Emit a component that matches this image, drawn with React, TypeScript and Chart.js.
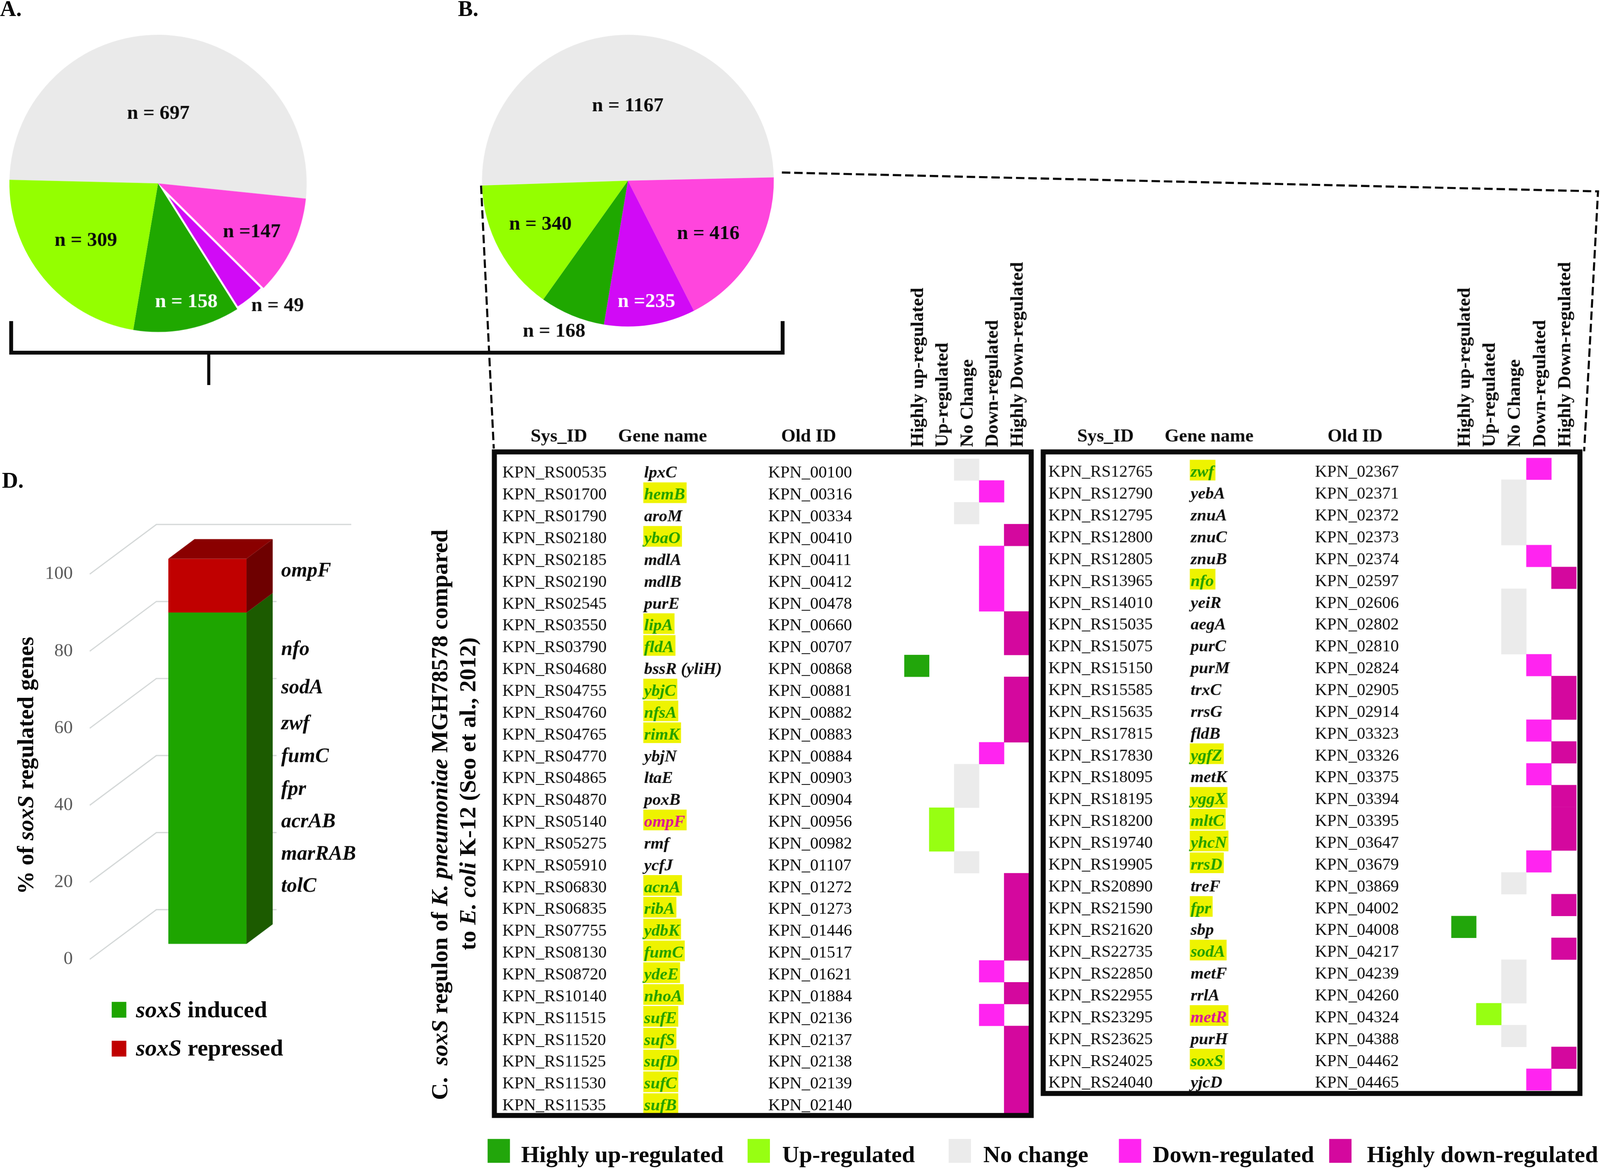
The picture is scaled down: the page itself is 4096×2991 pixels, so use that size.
import React, { useEffect, useRef } from 'react';
import { Chart, registerables } from 'chart.js';

Chart.register(...registerables);

const K = 0.986;
const SERIF = '"Liberation Serif", "Times New Roman", Times, serif';
const INK = '#0a0a0a';

// ---------------- Panels A & B (pies) ----------------
const pieCategories = ['No change', 'Down-regulated', 'Highly down-regulated', 'Highly up-regulated', 'Up-regulated'];
const pieAValues = [697, 147, 49, 158, 309];
const pieBValues = [1167, 416, 235, 168, 340];
const PIE_COLORS = ['#EAEAEA', '#FF45DD', '#D10AF6', '#1FA800', '#94FF00'];

// ---------------- Panel D (3D stacked bar) ----------------
const dCategories = ['soxS regulated genes'];
const dInduced = [86];
const dRepressed = [14];
const dTicks = [0, 20, 40, 60, 80, 100];
const dGeneNames = ['ompF', 'nfo', 'sodA', 'zwf', 'fumC', 'fpr', 'acrAB', 'marRAB', 'tolC'];
const dGeneBaselinePct = [95.4, 75.0, 65.1, 55.7, 47.2, 38.7, 30.3, 21.9, 13.5];

// ---------------- Panel C (regulon tables) ----------------
const statusNames = ['Highly up-regulated', 'Up-regulated', 'No Change', 'Down-regulated', 'Highly Down-regulated'];
const legendNames = ['Highly up-regulated', 'Up-regulated', 'No change', 'Down-regulated', 'Highly down-regulated'];
const STATUS_COLORS = ['#22A60B', '#97FF12', '#EBEBEB', '#FF24F0', '#D4089E'];
const tableHeaders = ['Sys_ID', 'Gene name', 'Old ID'];

const leftSysIds = ['KPN_RS00535', 'KPN_RS01700', 'KPN_RS01790', 'KPN_RS02180', 'KPN_RS02185', 'KPN_RS02190', 'KPN_RS02545', 'KPN_RS03550', 'KPN_RS03790', 'KPN_RS04680', 'KPN_RS04755', 'KPN_RS04760', 'KPN_RS04765', 'KPN_RS04770', 'KPN_RS04865', 'KPN_RS04870', 'KPN_RS05140', 'KPN_RS05275', 'KPN_RS05910', 'KPN_RS06830', 'KPN_RS06835', 'KPN_RS07755', 'KPN_RS08130', 'KPN_RS08720', 'KPN_RS10140', 'KPN_RS11515', 'KPN_RS11520', 'KPN_RS11525', 'KPN_RS11530', 'KPN_RS11535'];
const leftGenes = ['lpxC', 'hemB', 'aroM', 'ybaO', 'mdlA', 'mdlB', 'purE', 'lipA', 'fldA', 'bssR (yliH)', 'ybjC', 'nfsA', 'rimK', 'ybjN', 'ltaE', 'poxB', 'ompF', 'rmf', 'ycfJ', 'acnA', 'ribA', 'ydbK', 'fumC', 'ydeE', 'nhoA', 'sufE', 'sufS', 'sufD', 'sufC', 'sufB'];
const leftOldIds = ['KPN_00100', 'KPN_00316', 'KPN_00334', 'KPN_00410', 'KPN_00411', 'KPN_00412', 'KPN_00478', 'KPN_00660', 'KPN_00707', 'KPN_00868', 'KPN_00881', 'KPN_00882', 'KPN_00883', 'KPN_00884', 'KPN_00903', 'KPN_00904', 'KPN_00956', 'KPN_00982', 'KPN_01107', 'KPN_01272', 'KPN_01273', 'KPN_01446', 'KPN_01517', 'KPN_01621', 'KPN_01884', 'KPN_02136', 'KPN_02137', 'KPN_02138', 'KPN_02139', 'KPN_02140'];
// 0 highly up, 1 up, 2 no change, 3 down, 4 highly down
const leftStatus = [2, 3, 2, 4, 3, 3, 3, 4, 4, 0, 4, 4, 4, 3, 2, 2, 1, 1, 2, 4, 4, 4, 4, 3, 4, 3, 4, 4, 4, 4];
// 0 plain, 1 known soxS-induced (green on yellow), 2 known soxS-repressed (magenta on yellow)
const leftKnown = [0, 1, 0, 1, 0, 0, 0, 1, 1, 0, 1, 1, 1, 0, 0, 0, 2, 0, 0, 1, 1, 1, 1, 1, 1, 1, 1, 1, 1, 1];

const rightSysIds = ['KPN_RS12765', 'KPN_RS12790', 'KPN_RS12795', 'KPN_RS12800', 'KPN_RS12805', 'KPN_RS13965', 'KPN_RS14010', 'KPN_RS15035', 'KPN_RS15075', 'KPN_RS15150', 'KPN_RS15585', 'KPN_RS15635', 'KPN_RS17815', 'KPN_RS17830', 'KPN_RS18095', 'KPN_RS18195', 'KPN_RS18200', 'KPN_RS19740', 'KPN_RS19905', 'KPN_RS20890', 'KPN_RS21590', 'KPN_RS21620', 'KPN_RS22735', 'KPN_RS22850', 'KPN_RS22955', 'KPN_RS23295', 'KPN_RS23625', 'KPN_RS24025', 'KPN_RS24040'];
const rightGenes = ['zwf', 'yebA', 'znuA', 'znuC', 'znuB', 'nfo', 'yeiR', 'aegA', 'purC', 'purM', 'trxC', 'rrsG', 'fldB', 'ygfZ', 'metK', 'yggX', 'mltC', 'yhcN', 'rrsD', 'treF', 'fpr', 'sbp', 'sodA', 'metF', 'rrlA', 'metR', 'purH', 'soxS', 'yjcD'];
const rightOldIds = ['KPN_02367', 'KPN_02371', 'KPN_02372', 'KPN_02373', 'KPN_02374', 'KPN_02597', 'KPN_02606', 'KPN_02802', 'KPN_02810', 'KPN_02824', 'KPN_02905', 'KPN_02914', 'KPN_03323', 'KPN_03326', 'KPN_03375', 'KPN_03394', 'KPN_03395', 'KPN_03647', 'KPN_03679', 'KPN_03869', 'KPN_04002', 'KPN_04008', 'KPN_04217', 'KPN_04239', 'KPN_04260', 'KPN_04324', 'KPN_04388', 'KPN_04462', 'KPN_04465'];
const rightStatus = [3, 2, 2, 2, 3, 4, 2, 2, 2, 3, 4, 4, 3, 4, 3, 4, 4, 4, 3, 2, 4, 0, 4, 2, 2, 1, 2, 4, 3];
const rightKnown = [1, 0, 0, 0, 0, 1, 0, 0, 0, 0, 0, 0, 0, 1, 0, 1, 1, 1, 1, 0, 1, 0, 1, 0, 0, 2, 0, 1, 0];

// ---------------- styles / layout (reference pixel space) ----------------
const HL_YELLOW = '#EEF300';
const GENE_GREEN = '#23A000';
const GENE_MAGENTA = '#DC1399';
const ROW_H = 56.65;

const leftLayout = {
  cx: 1260, cy: 600, cw: 1440, ch: 2320,
  fL: 1277, fT: 1167, fR: 2683, fB: 2903,
  sysX: 1304, geneX: 1672, oldX: 1994, hdr: [1451, 1720, 2099],
  cellL: 2347, cellR: 2671, rowTop: 1191,
};
const rightLayout = {
  cx: 2690, cy: 600, cw: 1463, ch: 2260,
  fL: 2702, fT: 1167, fR: 4108, fB: 2846,
  sysX: 2722, geneX: 3091, oldX: 3414, hdr: [2870, 3139, 3518],
  cellL: 3767.5, cellR: 4092.5, rowTop: 1189,
};

function ChartCanvas({ x, y, w, h, make }: any) {
  const ref = useRef<HTMLCanvasElement>(null);
  useEffect(() => {
    const chart = new Chart(ref.current as HTMLCanvasElement, make());
    return () => chart.destroy();
  }, []);
  return <canvas ref={ref} width={w} height={h} style={{ position: 'absolute', left: x, top: y }} />;
}

// ---------------- pie ----------------
function pieLabelPlugin(st: any) {
  return {
    id: 'pieLabels',
    afterDatasetsDraw(chart: any) {
      const ctx = chart.ctx;
      const meta = chart.getDatasetMeta(0);
      const vals = chart.data.datasets[0].data;
      ctx.save();
      ctx.font = `bold 52px ${SERIF}`;
      ctx.textAlign = 'center';
      ctx.textBaseline = 'middle';
      meta.data.forEach((arc: any, i: number) => {
        const p = arc.getProps(['x', 'y', 'startAngle', 'endAngle', 'outerRadius'], true);
        const a = (p.startAngle + p.endAngle) / 2 + (st.dAng[i] * Math.PI) / 180;
        const r = st.frac[i] * p.outerRadius;
        ctx.fillStyle = st.color[i];
        ctx.fillText(st.prefix[i] + vals[i], p.x + r * Math.cos(a), p.y + r * Math.sin(a));
      });
      ctx.restore();
    },
  };
}

function makePie(values: number[], st: any) {
  return {
    type: 'pie',
    data: {
      labels: pieCategories,
      datasets: [{
        data: values,
        backgroundColor: PIE_COLORS,
        borderColor: '#FFFFFF',
        borderWidth: st.borderWidths,
        borderAlign: 'inner',
        radius: st.radius,
      }],
    },
    options: {
      animation: false,
      responsive: false,
      devicePixelRatio: K,
      events: [],
      rotation: st.rotation,
      layout: { padding: 0 },
      plugins: { legend: { display: false }, tooltip: { enabled: false } },
    },
    plugins: [pieLabelPlugin(st)],
  };
}

const pieAStyle = {
  radius: 386, rotation: 271.4, borderWidths: [0, 0, 5, 0, 0],
  prefix: ['n = ', 'n =', 'n = ', 'n = ', 'n = '],
  color: [INK, INK, INK, '#FFFFFF', INK],
  dAng: [-3.4, 2.1, -5.6, -2.1, 1.0],
  frac: [0.47, 0.71, 1.15, 0.82, 0.62],
};
const pieBStyle = {
  radius: 379, rotation: 268.1, borderWidths: [0, 0, 0, 0, 0],
  prefix: ['n = ', 'n = ', 'n =', 'n = ', 'n = '],
  color: [INK, INK, '#FFFFFF', INK, INK],
  dAng: [1.5, 2.6, 0, 3.6, 1.6],
  frac: [0.51, 0.66, 0.84, 1.15, 0.67],
};

// ---------------- 3D bar ----------------
const D_SIDE = ['#1C5B00', '#6E0000'];
const D_TOP = ['#145000', '#8A0000'];
const D_FRONT = ['#1EA500', '#C00000'];

const bar3dPlugin = {
  id: 'bar3d',
  beforeDatasetsDraw(chart: any) {
    const ctx = chart.ctx;
    const ys = chart.scales.y;
    const L = chart.chartArea.left;
    ctx.save();
    dTicks.forEach((v) => {
      const py = ys.getPixelForValue(v);
      ctx.strokeStyle = '#D2D6D6';
      ctx.lineWidth = 3;
      ctx.beginPath();
      ctx.moveTo(L - 204, py + 40);
      ctx.lineTo(L - 31, py - 89);
      ctx.lineTo(v === 100 ? L + 475 : L + 281, py - 89);
      ctx.stroke();
      ctx.fillStyle = '#595959';
      ctx.font = `48px ${SERIF}`;
      ctx.textAlign = 'right';
      ctx.textBaseline = 'middle';
      ctx.fillText(String(v), L - 248, py + 40);
    });
    ctx.restore();
  },
  afterDatasetsDraw(chart: any) {
    const ctx = chart.ctx;
    const DX = 68, DY = 51;
    const n = chart.data.datasets.length;
    ctx.save();
    let right = 0;
    for (let di = 0; di < n; di++) {
      const meta = chart.getDatasetMeta(di);
      meta.data.forEach((bar: any) => {
        const p = bar.getProps(['x', 'y', 'base', 'width'], true);
        const l = p.x - p.width / 2;
        const r = p.x + p.width / 2;
        right = r;
        const top = Math.min(p.y, p.base);
        const bot = Math.max(p.y, p.base);
        ctx.fillStyle = D_SIDE[di];
        ctx.beginPath();
        ctx.moveTo(r, bot);
        ctx.lineTo(r + DX, bot - DY);
        ctx.lineTo(r + DX, top - DY);
        ctx.lineTo(r, top);
        ctx.closePath();
        ctx.fill();
        if (di === n - 1) {
          ctx.fillStyle = D_TOP[di];
          ctx.beginPath();
          ctx.moveTo(l, top);
          ctx.lineTo(l + DX, top - DY);
          ctx.lineTo(r + DX, top - DY);
          ctx.lineTo(r, top);
          ctx.closePath();
          ctx.fill();
        }
      });
    }
    const ys = chart.scales.y;
    ctx.fillStyle = INK;
    ctx.font = `italic bold 53px ${SERIF}`;
    ctx.textAlign = 'left';
    ctx.textBaseline = 'alphabetic';
    dGeneNames.forEach((g, i) => {
      ctx.fillText(g, right + DX + 22, ys.getPixelForValue(dGeneBaselinePct[i]));
    });
    ctx.restore();
  },
};

function makeBar() {
  return {
    type: 'bar',
    data: {
      labels: dCategories,
      datasets: [
        { label: 'soxS induced', data: dInduced, backgroundColor: D_FRONT[0], barPercentage: 1, categoryPercentage: 1 },
        { label: 'soxS repressed', data: dRepressed, backgroundColor: D_FRONT[1], barPercentage: 1, categoryPercentage: 1 },
      ],
    },
    options: {
      animation: false,
      responsive: false,
      devicePixelRatio: K,
      events: [],
      layout: { padding: { left: 437, right: 360, top: 251, bottom: 349 } },
      scales: {
        x: { stacked: true, display: false },
        y: { stacked: true, display: false, min: 0, max: 100 },
      },
      plugins: { legend: { display: false }, tooltip: { enabled: false } },
    },
    plugins: [bar3dPlugin],
  };
}

// ---------------- tables ----------------
function tablePlugin(rows: any, lay: any) {
  return {
    id: 'tableText',
    beforeDatasetsDraw(chart: any) {
      const ctx = chart.ctx;
      const ys = chart.scales.y;
      const n = rows.sys.length;
      const band = (ys.bottom - ys.top) / n;
      const ox = lay.cx;
      ctx.save();
      ctx.textAlign = 'left';
      ctx.textBaseline = 'alphabetic';
      for (let i = 0; i < n; i++) {
        const yc = ys.getPixelForValue(i);
        const base = yc + 21;
        ctx.font = `43.5px ${SERIF}`;
        ctx.fillStyle = INK;
        ctx.fillText(rows.sys[i], lay.sysX - ox, base);
        ctx.fillText(rows.old[i], lay.oldX - ox, base);
        ctx.font = `italic bold 43.5px ${SERIF}`;
        const g = rows.gene[i];
        const k = rows.known[i];
        if (k) {
          const w = ctx.measureText(g).width;
          ctx.fillStyle = HL_YELLOW;
          ctx.fillRect(lay.geneX - ox - 2, yc - band / 2 + 5, w + 6, band - 3);
        }
        ctx.fillStyle = k === 1 ? GENE_GREEN : k === 2 ? GENE_MAGENTA : INK;
        ctx.fillText(g, lay.geneX - ox, base);
      }
      ctx.restore();
    },
    afterDatasetsDraw(chart: any) {
      const ctx = chart.ctx;
      const xs = chart.scales.x;
      const ox = lay.cx, oy = lay.cy;
      ctx.save();
      ctx.fillStyle = INK;
      ctx.font = `bold 48px ${SERIF}`;
      ctx.textAlign = 'center';
      ctx.textBaseline = 'alphabetic';
      tableHeaders.forEach((h, j) => ctx.fillText(h, lay.hdr[j] - ox, 1147 - oy));
      ctx.textAlign = 'left';
      statusNames.forEach((s, j) => {
        ctx.save();
        ctx.translate(xs.getPixelForValue(j) + 16, 1161 - oy);
        ctx.rotate(-Math.PI / 2);
        ctx.fillText(s, 0, 0);
        ctx.restore();
      });
      ctx.strokeStyle = INK;
      ctx.lineWidth = 13;
      ctx.strokeRect(lay.fL - ox + 6.5, lay.fT - oy + 6.5, lay.fR - lay.fL - 13, lay.fB - lay.fT - 13);
      ctx.restore();
    },
  };
}

function makeTable(rows: any, lay: any) {
  const n = rows.sys.length;
  const rowBottom = lay.rowTop + n * ROW_H;
  return {
    type: 'bar',
    data: {
      labels: rows.sys,
      datasets: [{
        label: 'regulation',
        data: rows.status.map((s: number) => [s - 0.5, s + 0.5]),
        backgroundColor: rows.status.map((s: number) => STATUS_COLORS[s]),
        borderWidth: 0,
        barPercentage: 1,
        categoryPercentage: 1,
      }],
    },
    options: {
      indexAxis: 'y',
      animation: false,
      responsive: false,
      devicePixelRatio: K,
      events: [],
      layout: {
        padding: {
          left: lay.cellL - lay.cx,
          right: lay.cx + lay.cw - lay.cellR,
          top: lay.rowTop - lay.cy,
          bottom: lay.cy + lay.ch - rowBottom,
        },
      },
      scales: {
        x: { type: 'linear', min: -0.5, max: 4.5, display: false },
        y: { type: 'category', display: false },
      },
      plugins: { legend: { display: false }, tooltip: { enabled: false } },
    },
    plugins: [tablePlugin(rows, lay)],
  };
}

const leftRows = { sys: leftSysIds, gene: leftGenes, old: leftOldIds, status: leftStatus, known: leftKnown };
const rightRows = { sys: rightSysIds, gene: rightGenes, old: rightOldIds, status: rightStatus, known: rightKnown };

const LEG_SQ_X = [1266, 1941, 2463, 2905, 3451];
const LEG_TX_X = [1353, 2031, 2553, 2993, 3549];

export default function App() {
  const txt = { fontFamily: SERIF, fill: INK } as any;
  return (
    <div style={{ position: 'absolute', left: 0, top: 0, width: 4153, height: 3033, transform: `scale(${K})`, transformOrigin: '0 0', background: '#FFFFFF', overflow: 'hidden' }}>
      <ChartCanvas x={0} y={66} w={820} h={820} make={() => makePie(pieAValues, pieAStyle)} />
      <ChartCanvas x={1180} y={19} w={900} h={900} make={() => makePie(pieBValues, pieBStyle)} />
      <ChartCanvas x={0} y={1200} w={1000} h={1600} make={makeBar} />
      <ChartCanvas x={leftLayout.cx} y={leftLayout.cy} w={leftLayout.cw} h={leftLayout.ch} make={() => makeTable(leftRows, leftLayout)} />
      <ChartCanvas x={rightLayout.cx} y={rightLayout.cy} w={rightLayout.cw} h={rightLayout.ch} make={() => makeTable(rightRows, rightLayout)} />
      <svg width={4153} height={3033} style={{ position: 'absolute', left: 0, top: 0, pointerEvents: 'none' }}>
        <g fill="none" stroke={INK}>
          <path d="M29 834 V916 H2032 V834" strokeWidth={10} />
          <path d="M542 916 V1000" strokeWidth={8} />
          <g strokeWidth={5.5} strokeDasharray="22 10">
            <path d="M1249 482 L1282 1165" />
            <path d="M2030 448 L4149 497 L4113 1172" />
          </g>
        </g>
        <text x={0} y={42} fontSize={58} fontWeight="bold" {...txt}>A.</text>
        <text x={1189} y={42} fontSize={58} fontWeight="bold" {...txt}>B.</text>
        <text x={5} y={1267} fontSize={58} fontWeight="bold" {...txt}>D.</text>
        <text transform="translate(86,1988) rotate(-90)" textAnchor="middle" fontSize={60} fontWeight="bold" {...txt}>
          {'% of '}<tspan fontStyle="italic">soxS</tspan>{' regulated genes'}
        </text>
        <rect x={290} y={2602} width={38} height={41} fill={D_FRONT[0]} />
        <rect x={290} y={2703} width={38} height={41} fill={D_FRONT[1]} />
        <text x={353} y={2642} fontSize={61} fontWeight="bold" {...txt}>
          <tspan fontStyle="italic">soxS</tspan>{' induced'}
        </text>
        <text x={353} y={2741} fontSize={61} fontWeight="bold" {...txt}>
          <tspan fontStyle="italic">soxS</tspan>{' repressed'}
        </text>
        <text transform="translate(1161,2857) rotate(-90)" fontSize={61} fontWeight="bold" style={{ whiteSpace: 'pre' }} {...txt}>
          {'C.  '}<tspan fontStyle="italic">soxS</tspan>{' regulon of '}<tspan fontStyle="italic">K. pneumoniae</tspan>{' MGH78578 compared'}
        </text>
        <text transform="translate(1234,2468) rotate(-90)" fontSize={61} fontWeight="bold" style={{ whiteSpace: 'pre' }} {...txt}>
          {'to '}<tspan fontStyle="italic">E. coli</tspan>{' K-12 (Seo et al., 2012)'}
        </text>
        {legendNames.map((name, i) => (
          <g key={name}>
            <rect x={LEG_SQ_X[i]} y={2958} width={58} height={62} fill={STATUS_COLORS[i]} />
            <text x={LEG_TX_X[i]} y={3018} fontSize={61} fontWeight="bold" {...txt}>{name}</text>
          </g>
        ))}
      </svg>
    </div>
  );
}
